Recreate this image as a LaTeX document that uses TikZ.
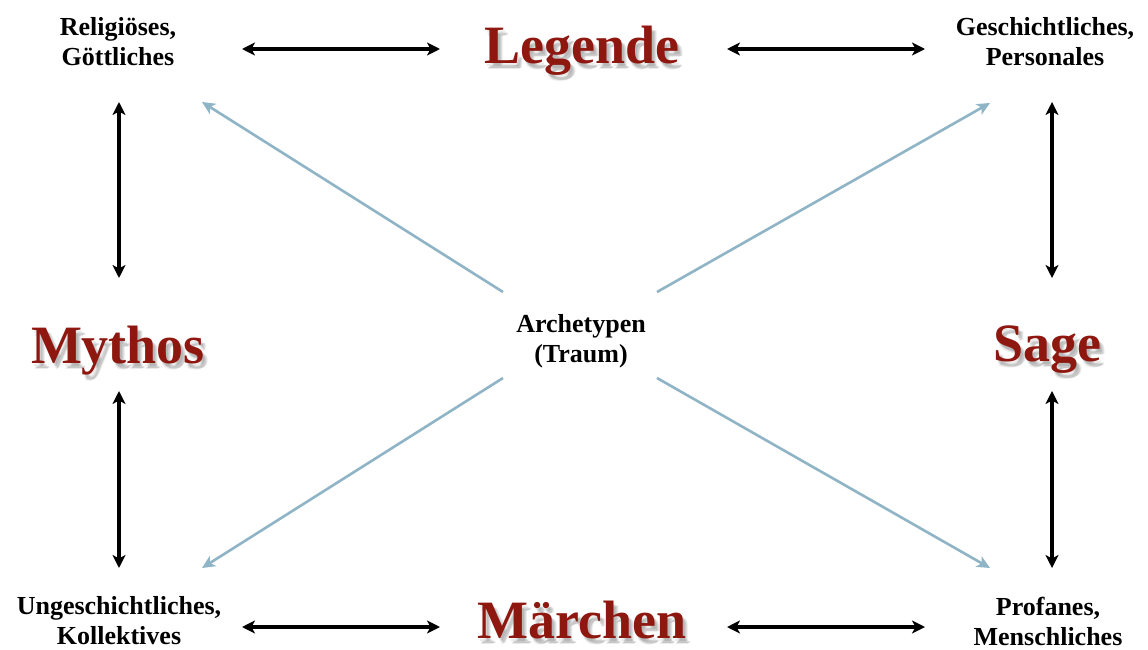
\documentclass[tikz,border=0pt]{standalone}
\usepackage{fontspec}
\setmainfont{Liberation Serif}
\usetikzlibrary{arrows.meta}
\definecolor{titlered}{HTML}{8E1710}
\definecolor{diagblue}{HTML}{8FB4C6}
\tikzset{
  lbltxt/.style={font=\bfseries\fontsize{26}{30}\selectfont, align=center, text=black},
  title/.style={font=\bfseries\fontsize{54}{60}\selectfont, text=titlered, inner sep=0pt},
  shadowtxt/.style={font=\bfseries\fontsize{54}{60}\selectfont, text=black, opacity=0.08, inner sep=0pt},
  dbl/.style={line width=3.2pt, black, {Stealth[length=13pt,width=13pt,inset=3.5pt]}-{Stealth[length=13pt,width=13pt,inset=3.5pt]}},
  diag/.style={line width=2.6pt, diagblue, -{Stealth[length=13pt,width=12pt,inset=3.5pt]}},
}
\newcommand{\shadowtitle}[3]{%
  \foreach \dx/\dy in {2/3,4/5,3/6,5/5}{
    \node[shadowtxt] at ([xshift=\dx pt,yshift=-\dy pt]#1) {#3};
  }
  \node[title] (#2) at (#1) {#3};
}
\begin{document}
\begin{tikzpicture}[x=1pt,y=-1pt]
\useasboundingbox (0,0) rectangle (1148,650);
\fill[white] (0,0) rectangle (1148,650);
% titles
\coordinate (pLeg) at (582,51);
\coordinate (pMae) at (582,620);
\coordinate (pMyt) at (118,351);
\coordinate (pSag) at (1047,350);
\shadowtitle{pLeg}{legende}{Legende}
\shadowtitle{pMae}{maerchen}{Märchen}
\shadowtitle{pMyt}{mythos}{Mythos}
\shadowtitle{pSag}{sage}{Sage}
% labels
\node[lbltxt] (rel) at (118,42) {Religiöses,\\Göttliches};
\node[lbltxt] (ges) at (1045,42) {Geschichtliches,\\Personales};
\node[lbltxt] (ung) at (119,621) {Ungeschichtliches,\\Kollektives};
\node[lbltxt] (pro) at (1048,621) {Profanes,\\Menschliches};
\node[lbltxt] (arc) at (581,341) {Archetypen\\(Traum)};
% arrow end coordinates
\coordinate (t1a) at (242,49); \coordinate (t1b) at (440,49);
\coordinate (t2a) at (727,49); \coordinate (t2b) at (925,49);
\coordinate (b1a) at (242,627); \coordinate (b1b) at (440,627);
\coordinate (b2a) at (727,627); \coordinate (b2b) at (925,627);
\coordinate (l1a) at (119,102); \coordinate (l1b) at (119,278);
\coordinate (l2a) at (119,391); \coordinate (l2b) at (119,568);
\coordinate (r1a) at (1052,102); \coordinate (r1b) at (1052,278);
\coordinate (r2a) at (1052,391); \coordinate (r2b) at (1052,568);
\coordinate (dUL) at (503,292); \coordinate (eUL) at (202,102);
\coordinate (dUR) at (657,292); \coordinate (eUR) at (990,103);
\coordinate (dLL) at (503,378); \coordinate (eLL) at (202,568);
\coordinate (dLR) at (657,378); \coordinate (eLR) at (990,568);
\draw[dbl] (t1a) -- (t1b);
\draw[dbl] (t2a) -- (t2b);
\draw[dbl] (b1a) -- (b1b);
\draw[dbl] (b2a) -- (b2b);
\draw[dbl] (l1a) -- (l1b);
\draw[dbl] (l2a) -- (l2b);
\draw[dbl] (r1a) -- (r1b);
\draw[dbl] (r2a) -- (r2b);
\draw[diag] (dUL) -- (eUL);
\draw[diag] (dUR) -- (eUR);
\draw[diag] (dLL) -- (eLL);
\draw[diag] (dLR) -- (eLR);
\end{tikzpicture}
\end{document}
